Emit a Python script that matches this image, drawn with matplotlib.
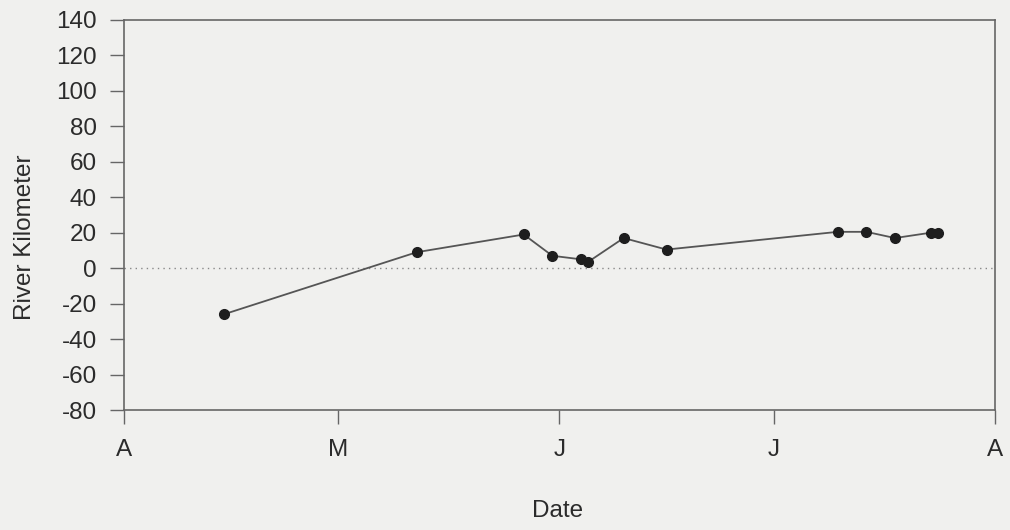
import matplotlib
matplotlib.use("Agg")
import matplotlib.pyplot as plt
import numpy as np

# survey dates (year is arbitrary, only month/day shown)
dates = np.array(['2000-04-15', '2000-05-12', '2000-05-27', '2000-05-31',
                  '2000-06-04', '2000-06-05', '2000-06-10', '2000-06-16',
                  '2000-07-10', '2000-07-14', '2000-07-18', '2000-07-23',
                  '2000-07-24'], dtype='datetime64[D]')
river_km = [-26, 9, 19, 7, 5, 3.5, 17, 10.5, 20.5, 20.5, 17, 20, 20]

month_ticks = np.array(['2000-04-01', '2000-05-01', '2000-06-01',
                        '2000-07-01', '2000-08-01'], dtype='datetime64[D]')
month_labels = ['A', 'M', 'J', 'J', 'A']

bg = '#f0f0ee'
ink = '#2b2b2b'
plt.rcParams['font.family'] = ['Liberation Sans', 'DejaVu Sans']
plt.rcParams['axes.unicode_minus'] = False

fig = plt.figure(figsize=(10.1, 5.3), dpi=100, facecolor=bg)
ax = fig.add_axes([0.1228, 0.2264, 0.8622, 0.7359], facecolor=bg)

ax.axhline(0, color='#888888', lw=1, ls=(0, (1, 3)))
ax.plot(dates.astype(object), river_km, color='#555555', lw=1.3,
        marker='o', ms=7, mfc='#1e1e1e', mec='#1e1e1e')

ax.set_xlim(month_ticks[0].astype(object), month_ticks[-1].astype(object))
ax.set_xticks([d.astype(object) for d in month_ticks])
ax.set_xticklabels(month_labels)
ax.set_ylim(-80, 140)
ax.set_yticks(np.arange(-80, 141, 20))

for s in ax.spines.values():
    s.set_color('#666666')
    s.set_linewidth(1.2)
ax.tick_params(axis='both', direction='out', length=10, width=1, color='#666666',
               labelcolor=ink, labelsize=17.5)
ax.tick_params(axis='y', pad=9.5)
ax.tick_params(axis='x', pad=11)

ax.set_ylabel('River Kilometer', fontsize=17.5, color=ink, va='center')
ax.yaxis.set_label_coords(-0.114, 0.444)
ax.set_xlabel('Date', fontsize=17.5, color=ink, va='center')
ax.xaxis.set_label_coords(0.498, -0.259)

fig.savefig('out.png', dpi=100, facecolor=bg)
